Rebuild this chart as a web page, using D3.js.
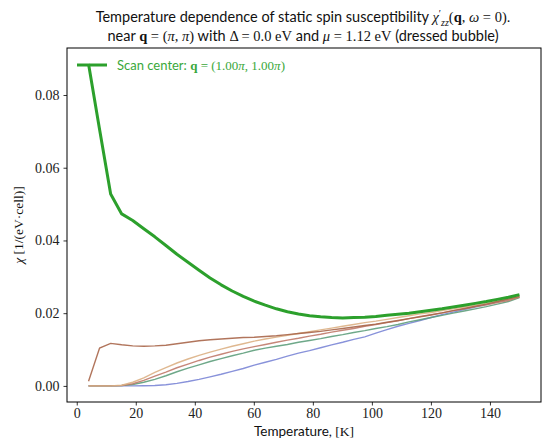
<!DOCTYPE html>
<html>
<head>
<meta charset="utf-8">
<script src="https://cdn.jsdelivr.net/npm/d3@7"></script>
<style>
  body { margin: 0; background: #fff; }
  .tick text { font-family: "Liberation Serif", serif; font-size: 14px; }
</style>
</head>
<body>
<div id="chart"></div>
<script>
// temperatures: 40 points from 4 K to 150 K
var temps = [4.00, 7.74, 11.49, 15.23, 18.97, 22.72, 26.46, 30.21, 33.95, 37.69,
    41.44, 45.18, 48.92, 52.67, 56.41, 60.15, 63.90, 67.64, 71.38, 75.13,
    78.87, 82.62, 86.36, 90.10, 93.85, 97.59, 101.33, 105.08, 108.82, 112.56,
    116.31, 120.05, 123.79, 127.54, 131.28, 135.03, 138.77, 142.51, 146.26, 150.00];

// scan center q = (pi, pi)
var chiCenter = [0.0885, 0.0705, 0.0528, 0.0473, 0.0455, 0.0432, 0.0410, 0.0386, 0.0362, 0.0340,
    0.0318, 0.0297, 0.0278, 0.0261, 0.0246, 0.0233, 0.0222, 0.0212, 0.0204, 0.0198,
    0.0193, 0.0190, 0.0188, 0.0187, 0.0188, 0.0189, 0.0191, 0.0194, 0.0197, 0.0200,
    0.0204, 0.0208, 0.0212, 0.0217, 0.0222, 0.0227, 0.0232, 0.0238, 0.0244, 0.0251];

// neighbouring q points (thin lines)
var chiBrown = [0.0013, 0.0104, 0.0117, 0.0113, 0.0110, 0.0109, 0.0110, 0.0112, 0.0116, 0.0120,
    0.0124, 0.0127, 0.0129, 0.0131, 0.0133, 0.0134, 0.0136, 0.0138, 0.0141, 0.0144,
    0.0147, 0.0150, 0.0154, 0.0158, 0.0162, 0.0166, 0.0170, 0.0175, 0.0180, 0.0185,
    0.0190, 0.0195, 0.0201, 0.0207, 0.0213, 0.0219, 0.0225, 0.0232, 0.0239, 0.0246];
var chiTan = [0, 0, 0, 0.0002, 0.0010, 0.0022, 0.0037, 0.0050, 0.0063, 0.0074,
    0.0084, 0.0093, 0.0101, 0.0109, 0.0116, 0.0123, 0.0129, 0.0134, 0.0139, 0.0144,
    0.0149, 0.0154, 0.0159, 0.0164, 0.0169, 0.0174, 0.0178, 0.0183, 0.0188, 0.0193,
    0.0198, 0.0202, 0.0207, 0.0212, 0.0217, 0.0222, 0.0227, 0.0233, 0.0239, 0.0245];
var chiRed = [0, 0, 0, 0.0001, 0.0006, 0.0015, 0.0027, 0.0038, 0.0050, 0.0060,
    0.0070, 0.0079, 0.0087, 0.0095, 0.0102, 0.0108, 0.0114, 0.0120, 0.0126, 0.0131,
    0.0137, 0.0142, 0.0148, 0.0153, 0.0158, 0.0164, 0.0169, 0.0174, 0.0179, 0.0185,
    0.0191, 0.0196, 0.0201, 0.0207, 0.0212, 0.0218, 0.0223, 0.0229, 0.0235, 0.0244];
var chiTeal = [0, 0, 0, 0.0001, 0.0004, 0.0010, 0.0018, 0.0028, 0.0039, 0.0049,
    0.0058, 0.0067, 0.0075, 0.0083, 0.0090, 0.0098, 0.0104, 0.0109, 0.0114, 0.0120,
    0.0125, 0.0130, 0.0136, 0.0141, 0.0147, 0.0152, 0.0158, 0.0163, 0.0169, 0.0176,
    0.0182, 0.0188, 0.0194, 0.0200, 0.0206, 0.0212, 0.0218, 0.0225, 0.0232, 0.0243];
var chiBlue = [0, 0, 0, 0, 0, 0.00005, 0.0001, 0.0003, 0.0007, 0.0012,
    0.0018, 0.0025, 0.0032, 0.0040, 0.0048, 0.0057, 0.0065, 0.0073, 0.0082, 0.0090,
    0.0097, 0.0105, 0.0113, 0.0120, 0.0128, 0.0135, 0.0145, 0.0155, 0.0164, 0.0172,
    0.0180, 0.0188, 0.0196, 0.0203, 0.0210, 0.0217, 0.0224, 0.0231, 0.0238, 0.0245];

var xTicks = [0, 20, 40, 60, 80, 100, 120, 140];
var yTicks = [0, 0.02, 0.04, 0.06, 0.08];

var margin = {top: 48, right: 12, bottom: 37, left: 67},
    width = 553 - margin.left - margin.right,
    height = 439 - margin.top - margin.bottom;

var svg = d3.select("#chart").append("svg")
    .attr("width", 553)
    .attr("height", 439);

var g = svg.append("g")
    .attr("transform", "translate(" + margin.left + "," + margin.top + ")");

// matplotlib style 5% padding
var xPad = (d3.max(temps) - d3.min(temps)) * 0.05;
var x = d3.scaleLinear()
    .domain([d3.min(temps) - xPad, d3.max(temps) + xPad])
    .range([0, width]);
var yMax = d3.max(chiCenter), yPad = yMax * 0.05;
var y = d3.scaleLinear()
    .domain([-yPad, yMax + yPad])
    .range([height, 0]);

var line = d3.line()
    .x(function (d, i) { return x(temps[i]); })
    .y(function (d) { return y(d); });

// thin lines first, then the thick scan center on top
var thin = [
    {values: chiBlue, color: "#7b86d6"},
    {values: chiTeal, color: "#5e9e7c"},
    {values: chiRed, color: "#c07a6a"},
    {values: chiTan, color: "#dcb084"},
    {values: chiBrown, color: "#a8664a"}
];
g.append("g").selectAll("path")
    .data(thin)
    .enter().append("path")
    .attr("d", function (d) { return line(d.values); })
    .attr("fill", "none")
    .attr("stroke", function (d) { return d.color; })
    .attr("stroke-width", 1.4)
    .attr("stroke-opacity", 0.9);

g.append("path")
    .attr("d", line(chiCenter))
    .attr("fill", "none")
    .attr("stroke", "#2ca02c")
    .attr("stroke-width", 3)
    .attr("stroke-linejoin", "round");

// axes
var xAxis = g.append("g")
    .attr("transform", "translate(0," + height + ")")
    .call(d3.axisBottom(x).tickValues(xTicks).tickSize(3.5).tickPadding(3).tickSizeOuter(0)
        .tickFormat(d3.format("d")));
var yAxis = g.append("g")
    .call(d3.axisLeft(y).tickValues(yTicks).tickSize(3.5).tickPadding(4).tickSizeOuter(0)
        .tickFormat(d3.format(".2f")));
[xAxis, yAxis].forEach(function (a) {
    a.select(".domain").remove();
    a.selectAll(".tick line").attr("stroke", "#000").attr("stroke-width", 0.8);
    a.selectAll(".tick text").attr("fill", "#222");
});

// frame
g.append("rect")
    .attr("width", width)
    .attr("height", height)
    .attr("fill", "none")
    .attr("stroke", "#000")
    .attr("stroke-width", 1);

// legend
var lg = g.append("g").attr("transform", "translate(10,17)");
lg.append("line")
    .attr("x1", 0).attr("x2", 30)
    .attr("stroke", "#2ca02c").attr("stroke-width", 3);
var lt = lg.append("text")
    .attr("x", 40).attr("y", 5)
    .attr("fill", "#3aa83a")
    .style("font-family", "Lato, sans-serif")
    .style("font-size", "13px");
lt.append("tspan").text("Scan center: ");
lt.append("tspan").style("font-family", "Liberation Serif, serif").style("font-weight", "bold").text("q");
lt.append("tspan").style("font-family", "Liberation Serif, serif").text(" = (1.00");
lt.append("tspan").style("font-family", "Liberation Serif, serif").style("font-style", "italic").text("π");
lt.append("tspan").style("font-family", "Liberation Serif, serif").text(", 1.00");
lt.append("tspan").style("font-family", "Liberation Serif, serif").style("font-style", "italic").text("π");
lt.append("tspan").style("font-family", "Liberation Serif, serif").text(")");

// title
var serif = "Liberation Serif, serif";
function addParts(textSel, parts) {
    parts.forEach(function (p) {
        var t = textSel.append("tspan").text(p.t);
        if (p.serif) t.style("font-family", serif);
        if (p.it) t.style("font-style", "italic");
        if (p.b) t.style("font-weight", "bold");
        if (p.size) t.style("font-size", p.size);
        if (p.dy) t.attr("dy", p.dy);
    });
}
var t1 = svg.append("text")
    .attr("x", 303).attr("y", 22)
    .attr("text-anchor", "middle")
    .style("font-family", "Lato, sans-serif")
    .style("font-size", "14.5px")
    .attr("fill", "#111");
addParts(t1, [
    {t: "Temperature dependence of static spin susceptibility "},
    {t: "χ", serif: true, it: true},
    {t: "′", serif: true, size: "10px", dy: -5},
    {t: "zz", serif: true, it: true, size: "10px", dy: 9},
    {t: "(", serif: true, dy: -4},
    {t: "q", serif: true, b: true},
    {t: ", ", serif: true},
    {t: "ω", serif: true, it: true},
    {t: " = 0).", serif: true}
]);
var t2 = svg.append("text")
    .attr("x", 303).attr("y", 41)
    .attr("text-anchor", "middle")
    .style("font-family", "Lato, sans-serif")
    .style("font-size", "14.5px")
    .attr("fill", "#111");
addParts(t2, [
    {t: "near "},
    {t: "q", serif: true, b: true},
    {t: " = (", serif: true},
    {t: "π", serif: true, it: true},
    {t: ", ", serif: true},
    {t: "π", serif: true, it: true},
    {t: ")", serif: true},
    {t: " with "},
    {t: "Δ = 0.0 eV", serif: true},
    {t: " and "},
    {t: "μ", serif: true, it: true},
    {t: " = 1.12 eV", serif: true},
    {t: " (dressed bubble)"}
]);

// axis labels
var xl = svg.append("text")
    .attr("x", margin.left + width / 2).attr("y", 436)
    .attr("text-anchor", "middle")
    .style("font-family", "Lato, sans-serif")
    .style("font-size", "13.5px")
    .attr("fill", "#111");
addParts(xl, [{t: "Temperature, "}, {t: "[K]", serif: true}]);

var yl = svg.append("text")
    .attr("transform", "translate(23," + (margin.top + height / 2) + ") rotate(-90)")
    .attr("text-anchor", "middle")
    .style("font-family", serif)
    .style("font-size", "13.5px")
    .attr("fill", "#111");
addParts(yl, [{t: "χ", it: true}, {t: " [1/(eV·cell)]"}]);
</script>
</body>
</html>
